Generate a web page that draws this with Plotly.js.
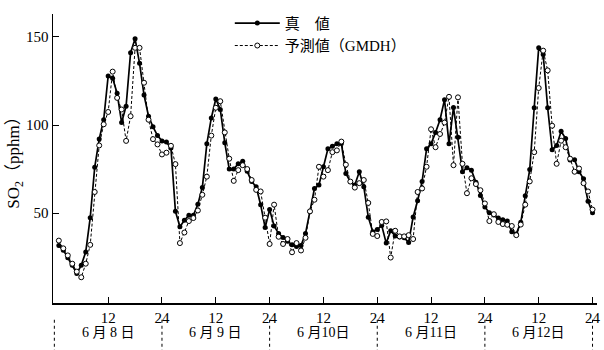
<!DOCTYPE html>
<html>
<head>
<meta charset="utf-8">
<script src="https://cdn.plot.ly/plotly-3.0.1.min.js"></script>
<style>html,body{margin:0;padding:0;background:#fff;}#chart{width:604px;height:350px;}</style>
</head>
<body>
<div id="chart"></div>
<script>
// hours since 6/8 00:00
const hours = Array.from({length: 120}, (_, i) => i + 1);

const actual = [
  31.6, 29, 24.7, 20.4, 15.8, 20.4, 28, 47.4, 76, 92, 103, 127.8,
  126.5, 118, 101.4, 110.7, 141, 149, 135, 117, 105, 99, 94, 91,
  90.3, 87, 51, 42.3, 46, 48.8, 48.8, 55, 64.5, 89.3, 104, 114.8,
  108.8, 90, 75, 75, 78, 79.4, 73.8, 67.9, 65, 54.8, 41.8, 52,
  42.7, 38.4, 36.2, 34, 32, 31, 31.6, 38.4, 51, 64, 66, 76.3,
  86.5, 88, 89.3, 89.5, 72.5, 67.9, 66, 73.5, 65, 47.7, 39.5, 40.7,
  43, 33, 40, 37, 36.4, 36, 33.4, 47.8, 57, 67.9, 86.5, 89.3,
  95.8, 103, 114.4, 89.3, 110, 93, 73.5, 75.7, 74.4, 67.5, 60, 53.5,
  50.2, 49, 47.2, 46.3, 45.5, 39.5, 38.2, 44.8, 59.8, 74.7, 109.8, 143.8,
  140, 109.8, 86, 88.4, 96.5, 92.3, 80.2, 80.3, 73.5, 69.5, 56.7, 50.2
];

const predicted = [
  34.4, 30, 26, 21.3, 16.8, 13.6, 21.3, 32, 62, 88.4, 100.4, 107.4,
  130.3, 115.4, 108.8, 91, 105, 143.8, 143.8, 124, 103, 92, 89, 83.3,
  84.3, 88.2, 77.8, 33, 39, 45.5, 47.2, 51.5, 60.4, 70.7, 94, 109.8,
  113.5, 95.8, 80.9, 68.3, 74.4, 77.2, 75, 68.8, 63.2, 62.3, 47.4, 32.5,
  54.8, 36.6, 32.5, 35.3, 27.8, 33, 28.8, 36, 51, 57.6, 76.3, 70.7,
  74.4, 84.6, 85.6, 90.6, 77.5, 67.9, 64.5, 67, 68.8, 55.8, 38.2, 37,
  45, 45.3, 24.8, 40, 36.8, 36.8, 37.5, 35.3, 62, 64, 76.3, 97.6,
  87.4, 94.9, 101.4, 116, 77.2, 115.7, 78, 61.3, 69.8, 66.5, 63, 55.5,
  45.5, 49.4, 45, 43.8, 43.4, 42.7, 37.5, 43.5, 54.8, 68, 84.6, 121,
  142.2, 131, 99.6, 78, 91.1, 87.4, 80.9, 73.5, 75.3, 67, 62.3, 52
];

const tickVals = [12, 24, 36, 48, 60, 72, 84, 96, 108, 120];
const tickText = ['12', '24', '12', '24', '12', '24', '12', '24', '12', '24'];

const dayCenters = [12, 36, 60, 84, 108];
const dayLabels = ['6 月 8 日', '6 月 9 日', '6 月10日', '6 月11日', '6 月12日'];
const dayBounds = [0, 24, 48, 72, 96, 120];

const seriesNames = ['真\u3000値', '予測値（GMDH）'];

const FONT = '"Liberation Serif", "Times New Roman", "Noto Sans CJK JP", serif';

const traces = [
  {
    x: hours, y: actual, name: seriesNames[0], type: 'scatter', mode: 'lines+markers',
    line: {color: '#000', width: 1.7},
    marker: {symbol: 'circle', size: 5, color: '#000'}
  },
  {
    x: hours, y: predicted, name: seriesNames[1], type: 'scatter', mode: 'lines+markers',
    line: {color: '#000', width: 1, dash: '3px,2px'},
    marker: {symbol: 'circle', size: 5, color: '#fff', line: {color: '#000', width: 1}}
  }
];

const shapes = dayBounds.map(b => ({
  type: 'line', xref: 'x', yref: 'paper', x0: b, x1: b, y0: -0.058, y1: -0.165,
  line: {color: '#000', width: 1, dash: '3px,3px'}
}));

const annotations = dayLabels.map((t, i) => ({
  x: dayCenters[i], xref: 'x', y: -0.103, yref: 'paper', text: t, showarrow: false,
  xanchor: 'center', yanchor: 'middle', font: {family: FONT, size: 14, color: '#000'}
}));

const layout = {
  width: 604, height: 350,
  margin: {l: 53, r: 7, t: 10, b: 47},
  paper_bgcolor: '#fff', plot_bgcolor: '#fff',
  font: {family: FONT, size: 15, color: '#000'},
  showlegend: true,
  legend: {
    x: 0.325, y: 1.025, xanchor: 'left', yanchor: 'top',
    bgcolor: 'rgba(0,0,0,0)', font: {family: FONT, size: 15, color: '#000'},
    tracegroupgap: 0, itemwidth: 45
  },
  xaxis: {
    range: [-0.3, 121], tickvals: tickVals, ticktext: tickText,
    ticks: 'inside', ticklen: 6, tickcolor: '#000', tickwidth: 1,
    showline: true, linecolor: '#000', linewidth: 1.5, showgrid: false, zeroline: false,
    tickfont: {family: FONT, size: 15, color: '#000'}
  },
  yaxis: {
    range: [-1, 163], tickvals: [50, 100, 150],
    ticks: 'inside', ticklen: 6, tickcolor: '#000', tickwidth: 1,
    showline: true, linecolor: '#000', linewidth: 1.5, showgrid: false, zeroline: false,
    tickfont: {family: FONT, size: 15, color: '#000'},
    title: {text: 'SO<sub>2</sub>（pphm）', font: {family: FONT, size: 17, color: '#000'}, standoff: 0}
  },
  shapes: shapes,
  annotations: annotations
};

Plotly.newPlot('chart', traces, layout, {staticPlot: true, displayModeBar: false});
</script>
</body>
</html>
